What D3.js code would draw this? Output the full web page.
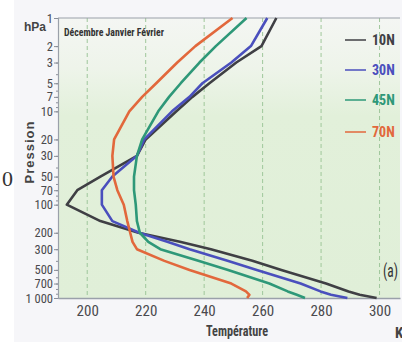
<!DOCTYPE html>
<html>
<head>
<meta charset="utf-8">
<script src="https://cdn.jsdelivr.net/npm/d3@7"></script>
<style>
  html, body { margin: 0; padding: 0; background: #ffffff; }
  svg { display: block; }
  .narrow { font-family: "Liberation Sans Narrow", "Arial Narrow", "Roboto Condensed", "Liberation Sans", sans-serif; }
</style>
</head>
<body>
<svg id="chart" width="402" height="342"></svg>
<script>
// Pressure levels (hPa) shared by every profile
const levels = [1, 2, 3, 5, 7, 10, 20, 30, 50, 70, 100, 150, 200, 250, 300, 400, 500, 700, 850, 925, 1000];

// Zonal-mean temperature (K), December–February
const t10N = [264.7, 259.6, 251.0, 241.8, 236.0, 230.5, 220.0, 217.0, 204.5, 196.6, 193.0, 204.5, 217.5, 231.7, 242.3, 256.5, 266.4, 281.7, 289.4, 293.2, 299.0];
const t30N = [261.6, 256.0, 249.3, 239.4, 235.0, 229.0, 219.5, 217.0, 208.6, 205.0, 205.0, 208.6, 217.8, 227.4, 235.0, 248.0, 258.0, 273.0, 279.8, 283.4, 289.0];
const t45N = [254.5, 244.0, 238.4, 232.0, 228.0, 224.3, 218.8, 217.0, 216.0, 216.0, 216.6, 217.0, 218.0, 220.9, 225.0, 238.0, 248.2, 262.3, 268.6, 271.7, 274.5];
const t70N = [249.7, 237.0, 230.8, 223.6, 218.8, 214.4, 209.2, 208.6, 209.0, 210.3, 212.5, 213.7, 214.7, 215.5, 217.0, 226.4, 235.0, 249.3, 254.3, 255.5, 254.7];

const seriesNames = ["10N", "30N", "45N", "70N"];
const seriesValues = [t10N, t30N, t45N, t70N];
const seriesColors = ["#3f3f44", "#4a4fbd", "#2e9878", "#e2683c"];

// Axis ticks
const tempTicks = [200, 220, 240, 260, 280, 300];
const pressTicks = [1, 2, 3, 5, 7, 10, 20, 30, 50, 70, 100, 200, 300, 500, 700, 1000];
const pressTickLabels = ["1", "2", "3", "5", "7", "10", "20", "30", "50", "70", "100", "200", "300", "500", "700", "1 000"];

const titleText = "Décembre Janvier Février";

const svg = d3.select("#chart");
const plotLeft = 58, plotRight = 400, plotTop = 18, plotBottom = 298;

const x = d3.scaleLinear().domain([190, 307]).range([plotLeft, plotRight]);
const y = d3.scaleLog().domain([1, 1000]).range([plotTop, plotBottom]);

// Plot background with a soft vertical tint
const defs = svg.append("defs");
const grad = defs.append("linearGradient").attr("id", "bg").attr("x1", 0).attr("y1", 0).attr("x2", 0).attr("y2", 1);
grad.append("stop").attr("offset", "0%").attr("stop-color", "#f4f6f3");
grad.append("stop").attr("offset", "18%").attr("stop-color", "#eef4ea");
grad.append("stop").attr("offset", "35%").attr("stop-color", "#e2f0da");
grad.append("stop").attr("offset", "100%").attr("stop-color", "#e0efd8");

// Page tone
svg.append("rect").attr("x", 14).attr("y", 0).attr("width", 388).attr("height", 342).attr("fill", "#f6f6f9");
svg.append("rect").attr("x", plotLeft).attr("y", plotTop).attr("width", plotRight - plotLeft).attr("height", plotBottom - plotTop).attr("fill", "url(#bg)");

// Vertical dashed grid
svg.append("g").selectAll("line").data(tempTicks).join("line")
  .attr("x1", d => x(d)).attr("x2", d => x(d))
  .attr("y1", plotTop).attr("y2", plotBottom)
  .attr("stroke", "#9fc79b").attr("stroke-width", 1).attr("stroke-dasharray", "4,3");

// Frame line along the top
svg.append("line").attr("x1", plotLeft).attr("x2", plotRight).attr("y1", plotTop).attr("y2", plotTop)
  .attr("stroke", "#9aa0aa").attr("stroke-width", 1.2);

// Bottom axis
const xAxis = d3.axisBottom(x).tickValues(tempTicks).tickSize(0).tickPadding(7).tickFormat(d3.format("d"));
const gx = svg.append("g").attr("transform", `translate(0,${plotBottom})`).call(xAxis);
gx.select(".domain").attr("stroke", "#9aa0aa").attr("stroke-width", 1.4);
gx.selectAll("text").attr("class", "narrow").attr("font-size", 15).attr("fill", "#4a4a4e");

// Left axis (log pressure)
const minorTicks = [];
[1, 10, 100].forEach(b => { for (let k = 1; k < 10; k++) minorTicks.push(b * k); });
minorTicks.push(1000);
const yMinor = d3.axisLeft(y).tickValues(minorTicks).tickSize(2).tickFormat("");
const gym = svg.append("g").attr("transform", `translate(${plotLeft},0)`).call(yMinor);
gym.select(".domain").remove();
gym.selectAll("line").attr("stroke", "#8a8f98");

const yAxis = d3.axisLeft(y).tickValues(pressTicks).tickSize(4).tickPadding(1)
  .tickFormat((d, i) => pressTickLabels[i]);
const gy = svg.append("g").attr("transform", `translate(${plotLeft},0)`).call(yAxis);
gy.select(".domain").attr("stroke", "#9aa0aa").attr("stroke-width", 1.2);
gy.selectAll("line").attr("stroke", "#8a8f98");
gy.selectAll("text").attr("class", "narrow").attr("font-size", 12.5).attr("fill", "#4a4a4e");

// Profiles
const line = d3.line().x(d => x(d[0])).y(d => y(d[1]));
seriesValues.forEach((vals, i) => {
  const pts = vals.map((t, k) => [t, levels[k]]);
  svg.append("path").datum(pts)
    .attr("d", line)
    .attr("fill", "none")
    .attr("stroke", seriesColors[i])
    .attr("stroke-width", 2.6)
    .attr("stroke-linejoin", "round");
});

// Legend
const legendY = [40, 70, 100, 132];
const lg = svg.append("g");
seriesNames.forEach((name, i) => {
  lg.append("line").attr("x1", 345).attr("x2", 366).attr("y1", legendY[i]).attr("y2", legendY[i])
    .attr("stroke", seriesColors[i]).attr("stroke-width", 1.5);
  lg.append("text").attr("class", "narrow").attr("x", 372).attr("y", legendY[i] + 5)
    .attr("font-size", 14).attr("font-weight", "bold").attr("fill", seriesColors[i]).text(name);
});

// Titles and labels
svg.append("text").attr("class", "narrow").attr("x", 64).attr("y", 36)
  .attr("font-size", 11).attr("font-weight", "bold").attr("fill", "#333")
  .attr("textLength", 100).attr("lengthAdjust", "spacingAndGlyphs").text(titleText);

svg.append("text").attr("x", 24).attr("y", 31)
  .attr("font-family", "Liberation Sans, Arial, sans-serif")
  .attr("font-size", 12).attr("font-weight", "bold").attr("fill", "#444").text("hPa");

svg.append("text")
  .attr("transform", "translate(34,152) rotate(-90)")
  .attr("text-anchor", "middle")
  .attr("font-family", "Liberation Sans, Arial, sans-serif")
  .attr("font-size", 13).attr("font-weight", "bold").attr("letter-spacing", 1)
  .attr("fill", "#444").text("Pression");

svg.append("text").attr("class", "narrow").attr("x", 237).attr("y", 336)
  .attr("text-anchor", "middle")
  .attr("font-size", 15).attr("font-weight", "bold").attr("fill", "#444")
  .attr("textLength", 62).attr("lengthAdjust", "spacingAndGlyphs").text("Température");

svg.append("text").attr("class", "narrow").attr("x", 395).attr("y", 338)
  .attr("font-size", 15).attr("font-weight", "bold").attr("fill", "#444").text("K");

svg.append("text").attr("class", "narrow").attr("x", 383).attr("y", 277)
  .attr("font-size", 18).attr("fill", "#333")
  .attr("textLength", 15).attr("lengthAdjust", "spacingAndGlyphs").text("(a)");

svg.append("text").attr("x", 2).attr("y", 186)
  .attr("font-family", "Liberation Serif, serif")
  .attr("font-size", 22).attr("fill", "#333").text("0");
</script>
</body>
</html>
